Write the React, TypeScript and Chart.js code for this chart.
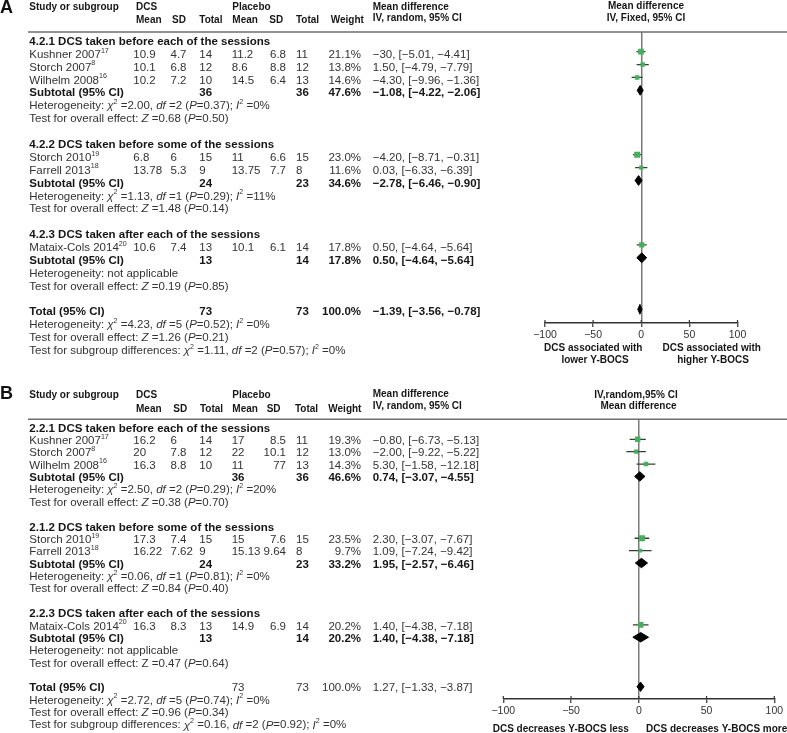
import React, { useEffect, useRef } from "react";
import { Chart, registerables } from "chart.js";
Chart.register(...registerables);

const FONT = '"Liberation Sans", Arial, Helvetica, sans-serif';
const GREEN = "#45b05a";
const TXT = "#333333";
const BOLD = "#161616";

// ---------------- Panel A data ----------------
const studyA = ["Kushner 2007", "Storch 2007", "Wilhelm 2008", "Storch 2010", "Farrell 2013", "Mataix-Cols 2014"];
const refA = ["17", "8", "16", "19", "18", "20"];
const studyRowA = [1, 2, 3, 9, 10, 16];
const dcsMeanA = [10.9, 10.1, 10.2, 6.8, 13.78, 10.6];
const dcsSdA = [4.7, 6.8, 7.2, 6, 5.3, 7.4];
const dcsNA = [14, 12, 10, 15, 9, 13];
const plMeanA = [11.2, 8.6, 14.5, 11, 13.75, 10.1];
const plSdA = [6.8, 8.8, 6.4, 6.6, 7.7, 6.1];
const plNA = [11, 12, 13, 15, 8, 14];
const weightA = [21.1, 13.8, 14.6, 23.0, 11.6, 17.8];
const mdA = [-0.3, 1.5, -4.3, -4.2, 0.03, 0.5];
const loA = [-5.01, -4.79, -9.96, -8.71, -6.33, -4.64];
const hiA = [4.41, 7.79, 1.36, 0.31, 6.39, 5.64];
const ciTextA = [
  "−30, [−5.01, −4.41]",
  "1.50, [−4.79, −7.79]",
  "−4.30, [−9.96, −1.36]",
  "−4.20, [−8.71, −0.31]",
  "0.03, [−6.33, −6.39]",
  "0.50, [−4.64, −5.64]",
];
const subRowA = [4, 11, 17, 21];
const subLabelA = ["Subtotal (95% CI)", "Subtotal (95% CI)", "Subtotal (95% CI)", "Total (95% CI)"];
const subDcsNA = [36, 24, 13, 73];
const subPlNA = [36, 23, 14, 73];
const subWeightA = [47.6, 34.6, 17.8, 100.0];
const subMdA = [-1.08, -2.78, 0.5, -1.39];
const subLoA = [-4.22, -6.46, -4.64, -3.56];
const subHiA = [2.06, 0.9, 5.64, 0.78];
const subCiTextA = ["−1.08, [−4.22, −2.06]", "−2.78, [−6.46, −0.90]", "0.50, [−4.64, −5.64]", "−1.39, [−3.56, −0.78]"];
const headRowA = [0, 8, 15];
const headTextA = [
  "4.2.1 DCS taken before each of the sessions",
  "4.2.2 DCS taken before some of the sessions",
  "4.2.3 DCS taken after each of the sessions",
];
const noteRowA = [5, 6, 12, 13, 18, 19, 22, 23, 24];
const noteTextA = [
  "Heterogeneity: {i:χ}{s:2} =2.00, {i:df} =2 ({i:P}=0.37); {i:I}{s:2} =0%",
  "Test for overall effect: {i:Z} =0.68 ({i:P}=0.50)",
  "Heterogeneity: {i:χ}{s:2} =1.13, {i:df} =1 ({i:P}=0.29); {i:I}{s:2} =11%",
  "Test for overall effect: {i:Z} =1.48 ({i:P}=0.14)",
  "Heterogeneity: not applicable",
  "Test for overall effect: {i:Z} =0.19 ({i:P}=0.85)",
  "Heterogeneity: {i:χ}{s:2} =4.23, {i:df} =5 ({i:P}=0.52); {i:I}{s:2} =0%",
  "Test for overall effect: {i:Z} =1.26 ({i:P}=0.21)",
  "Test for subgroup differences: {i:χ}{s:2} =1.11, {i:df} =2 ({i:P}=0.57); {i:I}{s:2} =0%",
];

// ---------------- Panel B data ----------------
const studyB = ["Kushner 2007", "Storch 2007", "Wilhelm 2008", "Storch 2010", "Farrell 2013", "Mataix-Cols 2014"];
const refB = ["17", "8", "16", "19", "18", "20"];
const studyRowB = [1, 2, 3, 9, 10, 16];
const dcsMeanB = [16.2, 20, 16.3, 17.3, 16.22, 16.3];
const dcsSdB = [6, 7.8, 8.8, 7.4, 7.62, 8.3];
const dcsNB = [14, 12, 10, 15, 9, 13];
const plMeanB = [17, 22, 11, 15, 15.13, 14.9];
const plSdB = [8.5, 10.1, 77, 7.6, 9.64, 6.9];
const plNB = [11, 12, 13, 15, 8, 14];
const weightB = [19.3, 13.0, 14.3, 23.5, 9.7, 20.2];
const mdB = [-0.8, -2.0, 5.3, 2.3, 1.09, 1.4];
const loB = [-6.73, -9.22, -1.58, -3.07, -7.24, -4.38];
const hiB = [5.13, 5.22, 12.18, 7.67, 9.42, 7.18];
const ciTextB = [
  "−0.80, [−6.73, −5.13]",
  "−2.00, [−9.22, −5.22]",
  "5.30, [−1.58, −12.18]",
  "2.30, [−3.07, −7.67]",
  "1.09, [−7.24, −9.42]",
  "1.40, [−4.38, −7.18]",
];
const subRowB = [4, 11, 17, 21];
const subLabelB = ["Subtotal (95% CI)", "Subtotal (95% CI)", "Subtotal (95% CI)", "Total (95% CI)"];
const subDcsNB = [36, 24, 13, 73];
const subPlNB = [36, 23, 14, 73];
const subWeightB = [46.6, 33.2, 20.2, 100.0];
const subMdB = [0.74, 1.95, 1.4, 1.27];
const subLoB = [-3.07, -2.57, -4.38, -1.33];
const subHiB = [4.55, 6.46, 7.18, 3.87];
const subCiTextB = ["0.74, [−3.07, −4.55]", "1.95, [−2.57, −6.46]", "1.40, [−4.38, −7.18]", "1.27, [−1.33, −3.87]"];
const headRowB = [0, 8, 15];
const headTextB = [
  "2.2.1 DCS taken before each of the sessions",
  "2.1.2 DCS taken before some of the sessions",
  "2.2.3 DCS taken after each of the sessions",
];
const noteRowB = [5, 6, 12, 13, 18, 19, 22, 23, 24];
const noteTextB = [
  "Heterogeneity: {i:χ}{s:2} =2.50, {i:df} =2 ({i:P}=0.29); {i:I}{s:2} =20%",
  "Test for overall effect: {i:Z} =0.38 ({i:P}=0.70)",
  "Heterogeneity: {i:χ}{s:2} =0.06, {i:df} =1 ({i:P}=0.81); {i:I}{s:2} =0%",
  "Test for overall effect: {i:Z} =0.84 ({i:P}=0.40)",
  "Heterogeneity: not applicable",
  "Test for overall effect: Z =0.47 ({i:P}=0.64)",
  "Heterogeneity: {i:χ}{s:2} =2.72, {i:df} =5 ({i:P}=0.74); {i:I}{s:2} =0%",
  "Test for overall effect: {i:Z} =0.96 ({i:P}=0.34)",
  "Test for subgroup differences: {i:χ}{s:2} =0.16, {i:df} =2 ({i:P}=0.92); {i:I}{s:2} =0%",
];

const xTicks = { min: -100, max: 100, step: 50 };

// ---------------- Layout (positions & styles) ----------------
const COLS = { study: 29.3, dcsMean: 133.3, dcsSd: 170.5, dcsN: 199.3, plMean: 231.7, plSdRight: 286, plN: 296, weightRight: 361, md: 372.7 };

const panelA = {
  data: {
    study: studyA, ref: refA, studyRow: studyRowA, dcsMean: dcsMeanA, dcsSd: dcsSdA, dcsN: dcsNA,
    plMean: plMeanA, plSd: plSdA, plN: plNA, weight: weightA, md: mdA, lo: loA, hi: hiA, ciText: ciTextA,
    subRow: subRowA, subLabel: subLabelA, subDcsN: subDcsNA, subPlN: subPlNA, subWeight: subWeightA,
    subMd: subMdA, subLo: subLoA, subHi: subHiA, subCiText: subCiTextA,
    headRow: headRowA, headText: headTextA, noteRow: noteRowA, noteText: noteTextA,
  },
  layout: {
    top: 0, height: 368, letter: "A", letterY: 8,
    area: { left: 545, right: 737.5, top: 32, bottom: 323 },
    yMin: -0.528, yMax: 22.065, textDy: 3,
    head1Y: 7, head2Y: 20.5, headMdY: [7, 18.5],
    colHead: { dcsMean: 136, dcsSd: 172, dcsN: 199.3, plMean: 232.3, plSd: 269.3, plN: 296, weight: 330.7 },
    rightHead: [["Mean difference", 646, 6.7], ["IV, Fixed, 95% CI", 646, 18.3]],
    bottomLabels: [["DCS associated with", 593.3, 348.3], ["lower Y-BOCS", 595, 360], ["DCS associated with", 711.7, 348.3], ["higher Y-BOCS", 713, 360]],
    subDcsAtPlMean: [false, false, false, false],
    totalNumbersBold: true,
  },
};

const panelB = {
  data: {
    study: studyB, ref: refB, studyRow: studyRowB, dcsMean: dcsMeanB, dcsSd: dcsSdB, dcsN: dcsNB,
    plMean: plMeanB, plSd: plSdB, plN: plNB, weight: weightB, md: mdB, lo: loB, hi: hiB, ciText: ciTextB,
    subRow: subRowB, subLabel: subLabelB, subDcsN: subDcsNB, subPlN: subPlNB, subWeight: subWeightB,
    subMd: subMdB, subLo: subLoB, subHi: subHiB, subCiText: subCiTextB,
    headRow: headRowB, headText: headTextB, noteRow: noteRowB, noteText: noteTextB,
  },
  layout: {
    top: 368, height: 365, letter: "B", letterY: 26,
    area: { left: 503.3, right: 774.3, top: 51.3, bottom: 331 },
    yMin: -0.617, yMax: 21.994, textDy: 1.5,
    head1Y: 27, head2Y: 41.3, headMdY: [26.3, 38],
    colHead: { dcsMean: 136, dcsSd: 173.3, dcsN: 200, plMean: 232.3, plSd: 266.7, plN: 295, weight: 328.3 },
    rightHead: [["IV,random,95% CI", 636, 27], ["Mean difference", 638.5, 38]],
    bottomLabels: [["DCS decreases Y-BOCS less", 560.8, 361.3], ["DCS decreases Y-BOCS more", 716.7, 361.3]],
    subDcsAtPlMean: [true, false, false, true],
    totalNumbersBold: false,
  },
};

// ---------------- Rich text helpers ----------------
type Seg = { t: string; i?: boolean; s?: boolean };
function parseRich(str: string): Seg[] {
  const out: Seg[] = [];
  const re = /\{([is]):([^}]*)\}/g;
  let last = 0;
  let m: RegExpExecArray | null;
  while ((m = re.exec(str))) {
    if (m.index > last) out.push({ t: str.slice(last, m.index) });
    out.push({ t: m[2], i: m[1] === "i", s: m[1] === "s" });
    last = re.lastIndex;
  }
  if (last < str.length) out.push({ t: str.slice(last) });
  return out;
}

function drawRich(ctx: CanvasRenderingContext2D, str: string, x: number, y: number, opt: { size: number; bold?: boolean; align?: string; color?: string }) {
  const segs = parseRich(str);
  const fontFor = (s: Seg) => `${s.i ? "italic " : ""}${opt.bold ? "bold " : ""}${s.s ? opt.size * 0.62 : opt.size}px ${FONT}`;
  let w = 0;
  for (const s of segs) {
    ctx.font = fontFor(s);
    w += ctx.measureText(s.t).width;
  }
  let cx = opt.align === "right" ? x - w : opt.align === "center" ? x - w / 2 : x;
  ctx.fillStyle = opt.color || (opt.bold ? BOLD : TXT);
  ctx.textBaseline = "middle";
  ctx.textAlign = "left";
  for (const s of segs) {
    ctx.font = fontFor(s);
    ctx.fillText(s.t, cx, s.s ? y - opt.size * 0.36 : y);
    cx += ctx.measureText(s.t).width;
  }
}

const fmtTick = (v: number) => (v < 0 ? "−" + Math.abs(v) : String(v));

function makeTablePlugin(P: any) {
  const D = P.data;
  const L = P.layout;
  return {
    id: "forestTable",
    afterDraw(chart: any) {
      const ctx: CanvasRenderingContext2D = chart.ctx;
      const ys = chart.scales.y;
      const xs = chart.scales.x;
      const rowY = (r: number) => ys.getPixelForValue(r) + L.textDy;
      const BODY = 11.5;
      const HEAD = 10;
      ctx.save();

      drawRich(ctx, L.letter, 0, L.letterY, { size: 18, bold: true, color: "#111" });

      const h = (t: string, x: number, y: number, align?: string) => drawRich(ctx, t, x, y, { size: HEAD, bold: true, align });
      h("Study or subgroup", COLS.study, L.head1Y);
      h("DCS", L.colHead.dcsMean, L.head1Y);
      h("Placebo", L.colHead.plMean, L.head1Y);
      h("Mean difference", COLS.md, L.headMdY[0]);
      h("Mean", L.colHead.dcsMean, L.head2Y);
      h("SD", L.colHead.dcsSd, L.head2Y);
      h("Total", L.colHead.dcsN, L.head2Y);
      h("Mean", L.colHead.plMean, L.head2Y);
      h("SD", L.colHead.plSd, L.head2Y);
      h("Total", L.colHead.plN, L.head2Y);
      h("Weight", L.colHead.weight, L.head2Y);
      h("IV, random, 95% CI", COLS.md, L.headMdY[1]);
      for (const [t, x, y] of L.rightHead) h(t, x, y, "center");

      ctx.strokeStyle = "#6e6e6e";
      ctx.lineWidth = 1.5;
      ctx.beginPath();
      ctx.moveTo(28, L.area.top);
      ctx.lineTo(787, L.area.top);
      ctx.stroke();

      D.headRow.forEach((r: number, i: number) => drawRich(ctx, D.headText[i], COLS.study, rowY(r), { size: BODY, bold: true }));

      D.studyRow.forEach((r: number, i: number) => {
        const y = rowY(r);
        const o = { size: BODY };
        drawRich(ctx, D.study[i] + "{s:" + D.ref[i] + "}", COLS.study, y, o);
        drawRich(ctx, String(D.dcsMean[i]), COLS.dcsMean, y, o);
        drawRich(ctx, String(D.dcsSd[i]), COLS.dcsSd, y, o);
        drawRich(ctx, String(D.dcsN[i]), COLS.dcsN, y, o);
        drawRich(ctx, String(D.plMean[i]), COLS.plMean, y, o);
        drawRich(ctx, String(D.plSd[i]), COLS.plSdRight, y, { size: BODY, align: "right" });
        drawRich(ctx, String(D.plN[i]), COLS.plN, y, o);
        drawRich(ctx, D.weight[i].toFixed(1) + "%", COLS.weightRight, y, { size: BODY, align: "right" });
        drawRich(ctx, D.ciText[i], COLS.md, y, o);
      });

      D.subRow.forEach((r: number, i: number) => {
        const y = rowY(r);
        const isTotal = i === D.subRow.length - 1;
        const nb = isTotal ? L.totalNumbersBold : true;
        drawRich(ctx, D.subLabel[i], COLS.study, y, { size: BODY, bold: true });
        const dx = L.subDcsAtPlMean[i] ? COLS.plMean : COLS.dcsN;
        drawRich(ctx, String(D.subDcsN[i]), dx, y, { size: BODY, bold: nb });
        drawRich(ctx, String(D.subPlN[i]), COLS.plN, y, { size: BODY, bold: nb });
        drawRich(ctx, D.subWeight[i].toFixed(1) + "%", COLS.weightRight, y, { size: BODY, bold: nb, align: "right" });
        drawRich(ctx, D.subCiText[i], COLS.md, y, { size: BODY, bold: nb });
      });

      D.noteRow.forEach((r: number, i: number) => drawRich(ctx, D.noteText[i], COLS.study, rowY(r), { size: BODY }));

      ctx.strokeStyle = "#333";
      ctx.lineWidth = 1.2;
      xs.ticks.forEach((t: any) => {
        const px = xs.getPixelForValue(t.value);
        ctx.beginPath();
        ctx.moveTo(px, L.area.bottom - 3);
        ctx.lineTo(px, L.area.bottom);
        ctx.stroke();
      });

      for (const [t, x, y] of L.bottomLabels) h(t, x, y, "center");
      ctx.restore();
    },
  };
}

function ForestPanel({ P }: { P: any }) {
  const ref = useRef<HTMLCanvasElement | null>(null);
  useEffect(() => {
    const D = P.data;
    const L = P.layout;
    const datasets: any[] = [];
    datasets.push({
      type: "scatter",
      data: D.md.map((m: number, i: number) => ({ x: m, y: D.studyRow[i] })),
      pointStyle: "rect",
      pointRadius: D.weight.map((w: number) => 1.5 + w * 0.12),
      backgroundColor: GREEN,
      borderColor: GREEN,
      borderWidth: 0,
      order: 0,
    });
    D.md.forEach((m: number, i: number) => {
      datasets.push({
        type: "line",
        showLine: true,
        data: [
          { x: D.lo[i], y: D.studyRow[i] },
          { x: D.hi[i], y: D.studyRow[i] },
        ],
        borderColor: "#3a3a3a",
        borderWidth: 1.3,
        pointRadius: 0,
        fill: false,
        order: 2,
      });
    });
    D.subMd.forEach((m: number, i: number) => {
      const r = D.subRow[i];
      const hh = 0.38;
      datasets.push({
        type: "line",
        showLine: true,
        data: [
          { x: D.subLo[i], y: r },
          { x: m, y: r - hh },
          { x: D.subHi[i], y: r },
          { x: m, y: r + hh },
          { x: D.subLo[i], y: r },
        ],
        borderColor: "#000",
        backgroundColor: "#000",
        borderWidth: 1,
        pointRadius: 0,
        fill: "shape",
        tension: 0,
        order: 1,
      });
    });

    const chart = new Chart(ref.current as HTMLCanvasElement, {
      type: "scatter",
      data: { datasets },
      options: {
        animation: false,
        responsive: false,
        maintainAspectRatio: false,
        events: [],
        layout: {
          padding: {
            left: L.area.left,
            right: 787 - L.area.right,
            top: L.area.top,
            bottom: L.height - L.area.bottom - 22,
          },
        },
        plugins: { legend: { display: false }, tooltip: { enabled: false } },
        scales: {
          x: {
            type: "linear",
            position: "bottom",
            min: xTicks.min,
            max: xTicks.max,
            afterFit: (s: any) => {
              s.height = 22;
            },
            ticks: {
              stepSize: xTicks.step,
              autoSkip: false,
              maxRotation: 0,
              padding: 2,
              color: "#333",
              font: { family: FONT, size: 10.5 },
              callback: (v: any) => fmtTick(Number(v)),
            },
            grid: {
              color: (c: any) => (c.tick && c.tick.value === 0 ? "#7a7a7a" : "rgba(0,0,0,0)"),
              lineWidth: 1.5,
              tickLength: 4,
              tickColor: "#333",
              tickWidth: 1.2,
            },
            border: { display: true, color: "#333", width: 1.5 },
          },
          y: {
            type: "linear",
            display: false,
            reverse: true,
            min: L.yMin,
            max: L.yMax,
          },
        },
      } as any,
      plugins: [makeTablePlugin(P)],
    });
    return () => chart.destroy();
  }, [P]);
  return (
    <canvas
      ref={ref}
      width={787}
      height={P.layout.height}
      style={{ position: "absolute", left: 0, top: P.layout.top, width: 787, height: P.layout.height }}
    />
  );
}

export default function App() {
  return (
    <div style={{ position: "absolute", left: 0, top: 0, width: 787, height: 733, background: "#fff" }}>
      <ForestPanel P={panelA} />
      <ForestPanel P={panelB} />
    </div>
  );
}
